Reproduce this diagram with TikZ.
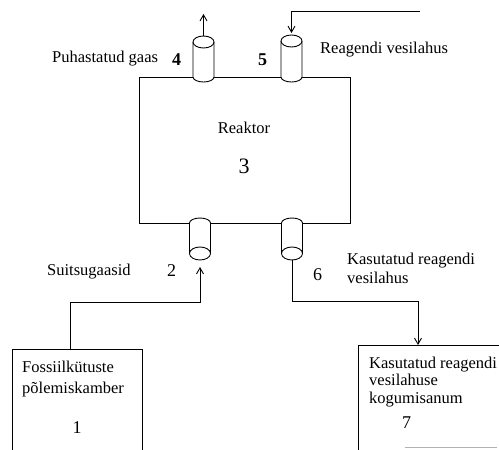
\documentclass[tikz,border=0pt]{standalone}
\usepackage{fontspec}
\setmainfont{Liberation Serif}
\usetikzlibrary{arrows.meta}
\tikzset{
  line/.style={line width=0.9pt, black},
  arr/.style={line, -{Straight Barb[length=6pt,width=7pt,line width=0.9pt]}},
  lbl/.style={inner sep=0pt, anchor=base west, font=\fontsize{16.5}{19}\selectfont},
  num/.style={inner sep=0pt, anchor=base west, font=\fontsize{18}{20}\selectfont},
  cyl/.style={line, fill=white}
}
\begin{document}
\begin{tikzpicture}[x=1pt,y=-1pt]
\useasboundingbox (0,0) rectangle (499,450);
% reactor
\node (reactor) [line, draw, inner sep=0pt, minimum width=211pt, minimum height=146pt] at (244.5,150) {};
% top cylinder 4
\draw[cyl] (193,77) -- (193,42) arc[start angle=180,end angle=360,x radius=10.5,y radius=6]
  -- (214,77) arc[start angle=0,end angle=180,x radius=10.5,y radius=5] -- cycle;
\draw[line] (193,42) arc[start angle=180,end angle=0,x radius=10.5,y radius=6];
\coordinate (c4top) at (203.5,36);
% top cylinder 5
\draw[cyl] (281,77) -- (281,41) arc[start angle=180,end angle=360,x radius=10.5,y radius=6]
  -- (302,77) arc[start angle=0,end angle=180,x radius=10.5,y radius=5] -- cycle;
\draw[line] (281,41) arc[start angle=180,end angle=0,x radius=10.5,y radius=6];
\coordinate (c5top) at (291.5,33);
% bottom cylinder 2
\draw[cyl] (189.5,223) arc[start angle=180,end angle=360,x radius=10.5,y radius=5]
  -- (210.5,253.5) arc[start angle=0,end angle=180,x radius=10.5,y radius=6.5] -- cycle;
\draw[line] (189.5,253.5) arc[start angle=180,end angle=360,x radius=10.5,y radius=6.5];
\coordinate (c2bot) at (200,267);
% bottom cylinder 6
\draw[cyl] (281.5,223) arc[start angle=180,end angle=360,x radius=10.5,y radius=5]
  -- (302.5,253.5) arc[start angle=0,end angle=180,x radius=10.5,y radius=6.5] -- cycle;
\draw[line] (281.5,253.5) arc[start angle=180,end angle=360,x radius=10.5,y radius=6.5];
\coordinate (c6bot) at (292,260);
% boxes 1 and 7 (cut by the picture edge)
\coordinate (b1top) at (70,349);
\draw[line] (12,451) -- (12,349) -- (142,349) -- (142,451);
\coordinate (b7top) at (418,345);
\draw[line] (358,451) -- (358,345) -- (500,345);
\draw[gray!60, line width=0.8pt] (405,447.5) -- (497,447.5);
% connectors
\coordinate (out4) at (203.5,14);
\coordinate (in5) at (420,11);
\coordinate (j2) at (200,302);
\coordinate (j6) at (418,301);
\draw[arr] (c4top) -- (out4);
\draw[arr] (in5) -| (c5top);
\draw[arr] (b1top) |- (j2) -- (c2bot);
\draw[arr] (c6bot) |- (j6) -- (b7top);
% labels
\node (t4) [lbl] at (52,62) {Puhastatud gaas};
\node (n4) [num, font=\fontsize{18}{20}\selectfont\bfseries] at (172,65) {4};
\node (n5) [num, font=\fontsize{18}{20}\selectfont\bfseries] at (258,65) {5};
\node (t5) [lbl] at (320,53) {Reagendi vesilahus};
\node (t3) [lbl, anchor=base] at (244,133) {Reaktor};
\node (n3) [num, anchor=base, font=\fontsize{22}{24}\selectfont] at (244,173) {3};
\node (t2) [lbl] at (47,275) {Suitsugaasid};
\node (n2) [num] at (167,276) {2};
\node (n6) [num] at (313,280) {6};
\node (t6a) [lbl] at (347,264) {Kasutatud reagendi};
\node (t6b) [lbl] at (347,283) {vesilahus};
\node (t1a) [lbl] at (22,372) {Fossiilkütuste};
\node (t1b) [lbl] at (22,393) {põlemiskamber};
\node (n1) [num, anchor=base] at (77,433) {1};
\node (t7a) [lbl] at (369,368) {Kasutatud reagendi};
\node (t7b) [lbl] at (369,385.5) {vesilahuse};
\node (t7c) [lbl] at (369,403) {kogumisanum};
\node (n7) [num] at (402,428) {7};
\end{tikzpicture}
\end{document}
